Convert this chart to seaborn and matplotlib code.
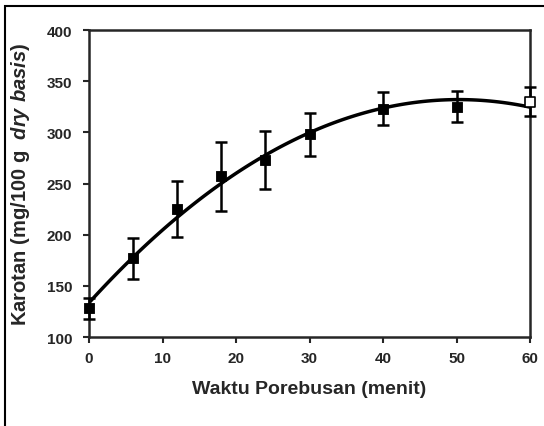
import numpy as np
import pandas as pd
import seaborn as sns
import matplotlib.pyplot as plt
from matplotlib.patches import Rectangle

# ------------------- DATA -------------------
waktu = [0, 6, 12, 18, 24, 30, 40, 50, 60]            # menit
karoten = [128, 177, 225, 257, 273, 298, 323, 325, 330]
galat = [10, 20, 27, 34, 28, 21, 16, 15, 14]
xticks = [0, 10, 20, 30, 40, 50, 60]
yticks = [100, 150, 200, 250, 300, 350, 400]

df = pd.DataFrame({"waktu": waktu, "karoten": karoten, "galat": galat})

# ------------------- PLOT -------------------
sns.set_style("ticks")
plt.rcParams["font.family"] = ["Liberation Sans", "DejaVu Sans"]
plt.rcParams["font.weight"] = "bold"
plt.rcParams["mathtext.fontset"] = "custom"
plt.rcParams["mathtext.it"] = "Liberation Sans:italic:bold"
plt.rcParams["mathtext.rm"] = "Liberation Sans:bold"

fig = plt.figure(figsize=(5.44, 4.27), dpi=100)
ax = fig.add_axes([89 / 544, 1 - 338 / 427, (530 - 89) / 544, (338 - 31) / 427])

# outer frame (only left/top visible in the scan)
fig.patches.append(Rectangle((5 / 544, -0.2), 1.2, 1.2 - 7 / 427,
                             transform=fig.transFigure, fill=False,
                             edgecolor="black", linewidth=1.5))

# fitted curve (2nd order polynomial)
sns.regplot(data=df, x="waktu", y="karoten", order=2, ci=None, scatter=False,
            truncate=True, color="black", line_kws={"linewidth": 2.5}, ax=ax)

ax.errorbar(df["waktu"], df["karoten"], yerr=df["galat"], fmt="none",
            ecolor="black", elinewidth=1.8, capsize=4.5, capthick=1.8,
            zorder=3, clip_on=False)

sns.scatterplot(data=df.iloc[:-1], x="waktu", y="karoten", marker="s", s=60,
                color="black", edgecolor="black", ax=ax, zorder=4, clip_on=False)
sns.scatterplot(data=df.iloc[-1:], x="waktu", y="karoten", marker="s", s=45,
                facecolor="white", edgecolor="black", linewidth=1.2, ax=ax,
                zorder=4, clip_on=False)

ax.set_xlim(0, 60)
ax.set_ylim(100, 400)
ax.set_xticks(xticks)
ax.set_yticks(yticks)
ax.tick_params(axis="both", direction="out", length=4, width=1.5, labelsize=11)
ax.tick_params(axis="x", pad=6)
ax.tick_params(axis="y", pad=8)
for lab in ax.get_xticklabels() + ax.get_yticklabels():
    lab.set_fontweight("bold")
for s in ax.spines.values():
    s.set_visible(True)
    s.set_linewidth(1.8)

ax.set_xlabel("Waktu Porebusan (menit)", fontsize=14, fontweight="bold", labelpad=11)
ax.set_ylabel(r"Karotan (mg/100 g  $\mathit{dry\ basis}$)", fontsize=14.5,
              fontweight="bold", labelpad=11)

fig.savefig("out.png", dpi=100)
